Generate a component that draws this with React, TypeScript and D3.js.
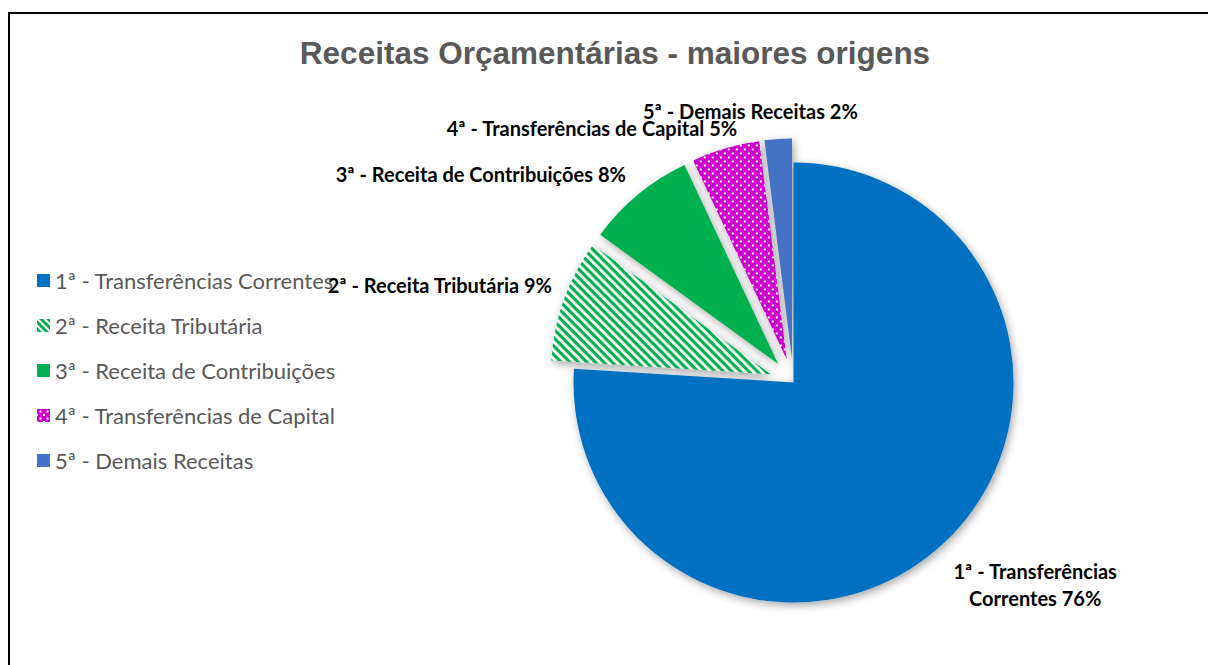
import React from "react";
import * as d3 from "d3";

const categories = [
  "1ª - Transferências Correntes",
  "2ª - Receita Tributária",
  "3ª - Receita de Contribuições",
  "4ª - Transferências de Capital",
  "5ª - Demais Receitas",
];
const values = [76, 9, 8, 5, 2];
const labelLines = [
  ["1ª - Transferências", "Correntes 76%"],
  ["2ª - Receita Tributária 9%"],
  ["3ª - Receita de Contribuições 8%"],
  ["4ª - Transferências de Capital 5%"],
  ["5ª - Demais Receitas 2%"],
];
const title = "Receitas Orçamentárias - maiores origens";

// layout / style (not data)
const W = 1208, H = 665;
const cx = 793.5, cy = 382.5, R = 220;
const explode = [0, 24, 24, 24, 24];
const fills = ["#0070C0", "url(#hatch)", "#00B050", "url(#dots)", "#4472C4"];
const legendFills = ["#0070C0", "url(#hatchL)", "#00B050", "url(#dotsL)", "#4472C4"];
const labelAnchor = ["middle", "end", "end", "end", "middle"];
const labelNudge = [[61, 10], [29.5, 0], [16, 13], [24, 22], [-25, 16]];

export default function App() {
  const pie = d3.pie<number>().sort(null).value((d) => d).startAngle(0).endAngle(2 * Math.PI);
  const arcs = pie(values);
  const arcGen = d3.arc<d3.PieArcDatum<number>>().innerRadius(0).outerRadius(R);

  const legendY = d3.scaleBand<number>().domain(d3.range(categories.length)).range([258, 483]);

  return (
    <svg width={W} height={H} style={{ position: "absolute", left: 0, top: 0, display: "block" }}>
      <defs>
        <pattern id="hatch" patternUnits="userSpaceOnUse" width="6" height="6" patternTransform="rotate(45)">
          <rect width="6" height="6" fill="#ffffff" />
          <rect width="6" height="3.2" fill="#00B050" />
        </pattern>
        <pattern id="hatchL" patternUnits="userSpaceOnUse" width="5" height="5" patternTransform="rotate(45)">
          <rect width="5" height="5" fill="#ffffff" />
          <rect width="5" height="3" fill="#00B050" />
        </pattern>
        <pattern id="dots" patternUnits="userSpaceOnUse" width="8" height="8">
          <rect width="8" height="8" fill="#CC00CC" />
          <rect x="1" y="1" width="2" height="2" fill="#ffffff" />
          <rect x="5" y="5" width="2" height="2" fill="#ffffff" />
        </pattern>
        <pattern id="dotsL" patternUnits="userSpaceOnUse" width="7" height="7">
          <rect width="7" height="7" fill="#CC00CC" />
          <rect x="1" y="1" width="2" height="2" fill="#ffffff" />
          <rect x="4.5" y="4.5" width="2" height="2" fill="#ffffff" />
        </pattern>
        <filter id="shadow" x="-20%" y="-20%" width="140%" height="140%">
          <feDropShadow dx="2" dy="3" stdDeviation="4" floodColor="#000" floodOpacity="0.35" />
        </filter>
      </defs>
      <rect x={0} y={0} width={W} height={H} fill="#fff" />
      <rect x={9} y={13} width={1300} height={800} fill="#fff" stroke="#000" strokeWidth={2} />

      <text x={615} y={64} textAnchor="middle" fontFamily="Liberation Sans, Arial, sans-serif"
        fontWeight="bold" fontSize={31.5} fill="#595959">{title}</text>

      <g filter="url(#shadow)">
        {arcs.map((a, i) => {
          const mid = (a.startAngle + a.endAngle) / 2;
          const dx = explode[i] * Math.sin(mid);
          const dy = -explode[i] * Math.cos(mid);
          return (
            <path key={i} d={arcGen(a) || ""} fill={fills[i]}
              transform={`translate(${cx + dx},${cy + dy})`} />
          );
        })}
      </g>

      {categories.map((c, i) => {
        const y = legendY(i)! + legendY.bandwidth() / 2;
        return (
          <g key={i}>
            <rect x={37} y={y - 6.5} width={13} height={13} fill={legendFills[i]} />
            <text x={55} y={y} dominantBaseline="central" fontFamily="Lato, sans-serif"
              fontSize={22} fill="#595959">{c}</text>
          </g>
        );
      })}

      {arcs.map((a, i) => {
        const mid = (a.startAngle + a.endAngle) / 2;
        const vx = cx + explode[i] * Math.sin(mid);
        const vy = cy - explode[i] * Math.cos(mid);
        const px = vx + R * 1.2 * Math.sin(mid) + labelNudge[i][0];
        const py = vy - R * 1.2 * Math.cos(mid) + labelNudge[i][1];
        const lines = labelLines[i];
        const lh = 27;
        return (
          <text key={i} x={px} y={py - ((lines.length - 1) * lh) / 2} textAnchor={labelAnchor[i] as any}
            fontFamily="Lato, sans-serif" fontWeight="bold" fontSize={20} fill="#000">
            {lines.map((l, j) => (
              <tspan key={j} x={px} dy={j === 0 ? 0 : lh} dominantBaseline="central">{l}</tspan>
            ))}
          </text>
        );
      })}
    </svg>
  );
}
